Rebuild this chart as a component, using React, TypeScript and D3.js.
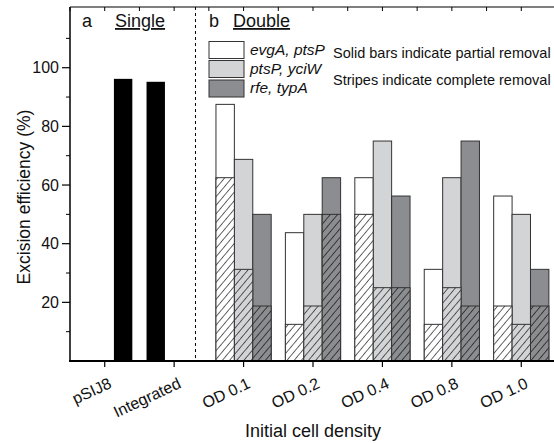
import * as React from 'react';
import * as d3 from 'd3';

// categories along the x axis
const categories = ['pSIJ8', 'Integrated', 'OD 0.1', 'OD 0.2', 'OD 0.4', 'OD 0.8', 'OD 1.0'];
const singleCats = ['pSIJ8', 'Integrated'];
const singleValues = [96.2, 95.2];
const singleSlots = ['rfe', 'evgA']; // slot within the group, as in the original layout
const odCats = ['OD 0.1', 'OD 0.2', 'OD 0.4', 'OD 0.8', 'OD 1.0'];

const seriesKeys = ['evgA', 'ptsP', 'rfe'];
const seriesLabels = ['evgA, ptsP', 'ptsP, yciW', 'rfe, typA'];
// partial removal (solid bar height)
const evgaTotal = [87.5, 43.75, 62.5, 31.25, 56.25];
const ptspTotal = [68.75, 50, 75, 62.5, 50];
const rfeTotal = [50, 62.5, 56.25, 75, 31.25];
// complete removal (striped part)
const evgaComplete = [62.5, 12.5, 50, 12.5, 18.75];
const ptspComplete = [31.25, 18.75, 25, 25, 12.5];
const rfeComplete = [18.75, 50, 25, 18.75, 18.75];

const majorTicks = [20, 40, 60, 80, 100];
const minorTicks = [10, 30, 50, 70, 90, 110];

const COLORS: Record<string, string> = {
  evgA: '#ffffff',
  ptsP: '#d3d4d6',
  rfe: '#8c8d90',
};

const FONT = 'Arial, "Liberation Sans", Helvetica, sans-serif';

export default function App() {
  const width = 554;
  const height = 443;
  const left = 70;
  const right = 556;
  const top = 7;
  const bottom = 361;

  const x = d3.scaleBand<string>().domain(categories).range([left, right]).padding(0);
  const xs = d3
    .scaleBand<string>()
    .domain(seriesKeys)
    .range([0, x.bandwidth()])
    .paddingInner(0)
    .paddingOuter(0.386);
  const y = d3.scaleLinear().domain([0, 120.7]).range([bottom, top]);

  const totals: Record<string, number[]> = { evgA: evgaTotal, ptsP: ptspTotal, rfe: rfeTotal };
  const completes: Record<string, number[]> = { evgA: evgaComplete, ptsP: ptspComplete, rfe: rfeComplete };

  // divider sits a bit right of the "Integrated" tick
  const dashX = x(singleCats[1])! + x.bandwidth() * 0.8 + 0.5;

  // top ticks at band centres and band edges
  const topTicks: number[] = [];
  categories.forEach((c) => {
    topTicks.push(x(c)!);
    topTicks.push(x(c)! + x.bandwidth() / 2);
  });

  const legendX = 209;
  const legendY = [41.5, 60.5, 80];

  return (
    <svg
      width={width}
      height={height}
      style={{ position: 'absolute', left: 0, top: 0, background: '#fff' }}
      fontFamily={FONT}
    >
      <defs>
        <pattern
          id="hatch"
          patternUnits="userSpaceOnUse"
          width={5.5}
          height={5.5}
          patternTransform="rotate(40)"
        >
          <line x1={0} y1={0} x2={0} y2={5.5} stroke="#000" strokeWidth={1.2} />
        </pattern>
      </defs>

      {/* single bars */}
      {singleCats.map((c, i) => (
        <rect
          key={c}
          x={x(c)! + xs(singleSlots[i])!}
          y={y(singleValues[i])}
          width={xs.bandwidth()}
          height={y(0) - y(singleValues[i])}
          fill="#000"
        />
      ))}

      {/* double: solid bars (partial removal) */}
      {seriesKeys.map((k) =>
        odCats.map((c, i) => (
          <rect
            key={`${k}-${c}`}
            x={x(c)! + xs(k)!}
            y={y(totals[k][i])}
            width={xs.bandwidth()}
            height={y(0) - y(totals[k][i])}
            fill={COLORS[k]}
            stroke="#333"
            strokeWidth={1}
          />
        ))
      )}

      {/* double: striped part (complete removal) */}
      {seriesKeys.map((k) =>
        odCats.map((c, i) => (
          <g key={`h-${k}-${c}`}>
            <rect
              x={x(c)! + xs(k)!}
              y={y(completes[k][i])}
              width={xs.bandwidth()}
              height={y(0) - y(completes[k][i])}
              fill={COLORS[k]}
            />
            <rect
              x={x(c)! + xs(k)!}
              y={y(completes[k][i])}
              width={xs.bandwidth()}
              height={y(0) - y(completes[k][i])}
              fill="url(#hatch)"
              stroke="#333"
              strokeWidth={1}
            />
          </g>
        ))
      )}

      {/* dashed divider */}
      <line x1={dashX} x2={dashX} y1={top} y2={bottom} stroke="#000" strokeWidth={1} strokeDasharray="3,3" />

      {/* frame: top */}
      <line x1={left} x2={right} y1={top} y2={top} stroke="#000" strokeWidth={1.2} />
      {topTicks.map((t, i) => (
        <line key={i} x1={t} x2={t} y1={top} y2={top + 4} stroke="#000" strokeWidth={1} />
      ))}

      {/* y axis */}
      <line x1={left} x2={left} y1={top} y2={bottom} stroke="#000" strokeWidth={1.5} />
      {majorTicks.map((t) => (
        <g key={t} transform={`translate(0,${y(t)})`}>
          <line x1={left - 8} x2={left} stroke="#000" strokeWidth={1.2} />
          <text x={left - 11} dy="0.35em" textAnchor="end" fontSize={16} fill="#111">
            {t}
          </text>
        </g>
      ))}
      {minorTicks.map((t) => (
        <line key={t} x1={left - 4} x2={left} y1={y(t)} y2={y(t)} stroke="#000" strokeWidth={1} />
      ))}
      <text
        transform={`translate(30,197) rotate(-90)`}
        textAnchor="middle"
        fontSize={17.5}
        fill="#111"
      >
        Excision efficiency (%)
      </text>

      {/* x axis */}
      <line x1={left - 1} x2={right} y1={bottom} y2={bottom} stroke="#000" strokeWidth={2} />
      {categories.map((c) => {
        const cx = x(c)! + x.bandwidth() / 2;
        return (
          <g key={c}>
            <line x1={cx} x2={cx} y1={bottom} y2={bottom + 6} stroke="#000" strokeWidth={1.2} />
            <text
              transform={`translate(${cx + 3},${bottom + 16}) rotate(-25)`}
              textAnchor="end"
              dy="0.71em"
              fontSize={16}
              fill="#111"
            >
              {c}
            </text>
          </g>
        );
      })}
      <text x={313} y={437} textAnchor="middle" fontSize={18} fill="#111">
        Initial cell density
      </text>

      {/* panel labels */}
      <text x={82} y={27} fontSize={18} fill="#111">a</text>
      <text x={115} y={27} fontSize={18} fill="#111" textDecoration="underline">Single</text>
      <text x={209} y={27} fontSize={18} fill="#111">b</text>
      <text x={233} y={27} fontSize={18} fill="#111" textDecoration="underline">Double</text>

      {/* legend */}
      {seriesKeys.map((k, i) => (
        <g key={k}>
          <rect x={legendX} y={legendY[i]} width={35} height={17} fill={COLORS[k]} stroke="#333" strokeWidth={1} />
          <text x={legendX + 41} y={legendY[i] + 13} fontSize={15.5} fontStyle="italic" fill="#111">
            {seriesLabels[i]}
          </text>
        </g>
      ))}
      <text x={333} y={58} fontSize={14.5} fill="#111">Solid bars indicate partial removal</text>
      <text x={333} y={85} fontSize={14.5} fill="#111">Stripes indicate complete removal</text>
    </svg>
  );
}
